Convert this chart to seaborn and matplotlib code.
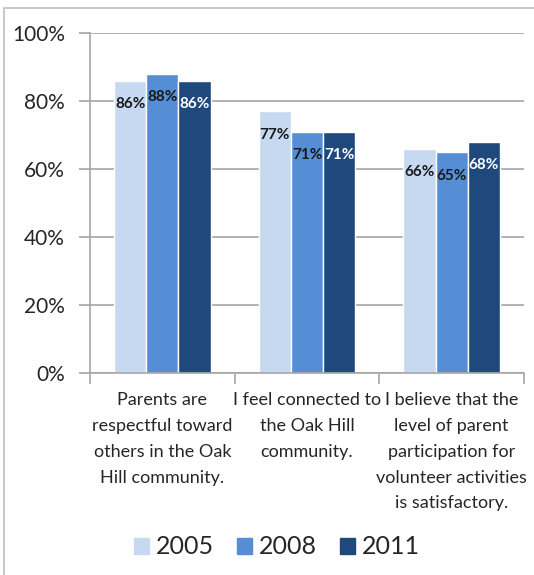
import pandas as pd
import matplotlib.pyplot as plt
import matplotlib.patches as mpatches
import seaborn as sns

# 数据
categories = [
    "Parents are\nrespectful toward\nothers in the Oak\nHill community.",
    "I feel connected to\nthe Oak Hill\ncommunity.",
    "I believe that the\nlevel of parent\nparticipation for\nvolunteer activities\nis satisfactory.",
]
years = ["2005", "2008", "2011"]
vals_2005 = [86, 77, 66]
vals_2008 = [88, 71, 65]
vals_2011 = [86, 71, 68]
colors = ["#C6D9F1", "#558ED5", "#1F497D"]
label_colors = ["#1a1a1a", "#1a1a1a", "#ffffff"]

df = pd.DataFrame({
    "category": categories * 3,
    "year": [y for y in years for _ in categories],
    "value": vals_2005 + vals_2008 + vals_2011,
})

sns.set_theme(style="white")
plt.rcParams["font.family"] = ["Lato", "DejaVu Sans"]

fig = plt.figure(figsize=(5.34, 5.75), dpi=100)
ax = fig.add_axes([90 / 534, 1 - 373 / 575, (524 - 90) / 534, (373 - 33) / 575])

sns.barplot(data=df, x="category", y="value", hue="year", palette=colors,
            width=0.667, gap=0, saturation=1, ax=ax, legend=False)

for cont, lc in zip(ax.containers, label_colors):
    ax.bar_label(cont, labels=[f"{v:.0f}%" for v in cont.datavalues],
                 padding=-22, color=lc, fontsize=11, fontweight="bold")

ax.set_ylim(0, 100)
ax.set_xlim(-0.5, 2.5)
ax.set_yticks(range(0, 101, 20))
ax.set_yticklabels([f"{t}%" for t in range(0, 101, 20)], fontsize=15, color="#262626")
ax.yaxis.grid(True, color="#A6A6A6", linewidth=1.2)
ax.set_axisbelow(True)
ax.tick_params(axis="y", length=8, width=1.2, color="#A6A6A6", pad=10, left=True)

ax.set_xticks(range(3))
ax.set_xticklabels(categories, fontsize=13, color="#262626", linespacing=1.75, va="top")
ax.tick_params(axis="x", which="major", length=0, pad=14)
ax.set_xticks([-0.5, 0.5, 1.5, 2.5], minor=True)
ax.tick_params(axis="x", which="minor", length=8, width=1.2, color="#A6A6A6", bottom=True)
ax.set_xlabel("")
ax.set_ylabel("")

for s in ["top", "right"]:
    ax.spines[s].set_visible(False)
for s in ["left", "bottom"]:
    ax.spines[s].set_color("#A6A6A6")
    ax.spines[s].set_linewidth(1.2)

handles = [mpatches.Patch(color=c, label=y) for c, y in zip(colors, years)]
fig.legend(handles=handles, loc="center", bbox_to_anchor=(277 / 534, 1 - 547 / 575),
           ncol=3, frameon=False, fontsize=18, handlelength=0.6, handleheight=0.6,
           handletextpad=0.3, columnspacing=0.9, labelcolor="#262626")

# 外框
fig.patches.append(mpatches.Rectangle((4 / 534, -0.1), 1.2, 1 - 8 / 575 + 0.1,
                                      transform=fig.transFigure, fill=False,
                                      edgecolor="#BFBFBF", linewidth=1.2))

plt.savefig("out.png", dpi=100)
